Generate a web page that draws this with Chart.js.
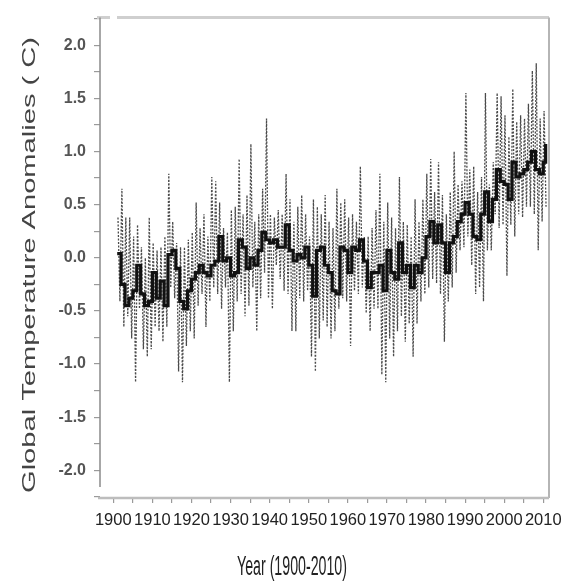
<!DOCTYPE html>
<html>
<head>
<meta charset="utf-8">
<script src="https://cdn.jsdelivr.net/npm/chart.js@4"></script>
<style>
    html, body { margin: 0; padding: 0; background: #fff; }
    #wrap { width: 576px; height: 584px; position: relative; }
</style>
</head>
<body>
<div id="wrap"><canvas id="tempChart" width="576" height="584"></canvas></div>
<script>
// Years 1901-2010
const years = [];
for (let y = 1901; y <= 2010; y++) years.push(y);

// Annual mean anomaly (thick step line)
const annual = [
    0.04, -0.25, -0.45, -0.38, -0.31, -0.07, -0.34, -0.45, -0.41, -0.14,
    -0.38, -0.22, -0.45, 0.03, 0.07, -0.10, -0.41, -0.48, -0.31, -0.20,
    -0.14, -0.07, -0.14, -0.17, -0.07, -0.03, 0.20, -0.03, 0.00, -0.17,
    -0.14, 0.17, 0.10, -0.10, 0.00, -0.07, 0.07, 0.24, 0.17, 0.14,
    0.17, 0.10, 0.10, 0.31, 0.07, -0.03, 0.03, 0.00, 0.10, -0.07,
    -0.36, 0.07, 0.10, -0.07, -0.14, -0.31, -0.34, 0.10, 0.07, -0.14,
    0.10, 0.07, 0.17, -0.03, -0.28, -0.14, -0.14, -0.07, -0.31, 0.07,
    -0.14, -0.20, 0.14, -0.14, -0.07, -0.28, -0.07, -0.14, 0.00, 0.20,
    0.34, 0.14, 0.31, 0.14, -0.14, 0.14, 0.20, 0.34, 0.41, 0.52,
    0.41, 0.20, 0.17, 0.41, 0.62, 0.34, 0.55, 0.83, 0.72, 0.69,
    0.55, 0.90, 0.76, 0.79, 0.83, 0.90, 1.00, 0.83, 0.79, 0.90
];
const stepEnd = { x: 2010.6, y: 1.07 };

// Monthly spread: highest and lowest reading of each year (dotted line)
const highs = [
    0.38, 0.65, 0.38, 0.38, 0.20, 0.31, 0.10, 0.00, 0.38, 0.14,
    0.07, 0.10, 0.20, 0.79, 0.34, 0.14, 0.10, 0.10, 0.17, 0.24,
    0.52, 0.28, 0.41, 0.20, 0.76, 0.72, 0.52, 0.28, 0.24, 0.45,
    0.48, 0.93, 0.41, 0.59, 1.07, 0.34, 0.41, 0.65, 1.31, 0.41,
    0.38, 0.45, 0.41, 0.79, 0.55, 0.34, 0.48, 0.59, 0.41, 0.20,
    0.55, 0.48, 0.41, 0.59, 0.34, 0.28, 0.65, 0.52, 0.55, 0.38,
    0.41, 0.34, 0.86, 0.20, 0.20, 0.28, 0.45, 0.79, 0.34, 0.52,
    0.38, 0.28, 0.76, 0.34, 0.31, 0.20, 0.55, 0.34, 0.55, 0.79,
    0.93, 0.62, 0.90, 0.59, 0.41, 0.62, 1.00, 0.69, 0.72, 1.55,
    0.83, 0.86, 0.62, 0.76, 1.55, 0.69, 0.90, 1.55, 1.52, 1.34,
    1.14, 1.59, 1.28, 1.34, 1.31, 1.45, 1.76, 1.83, 1.31, 1.38
];
const lows = [
    -0.41, -0.65, -0.55, -0.76, -1.17, -0.48, -0.86, -0.93, -0.86, -0.65,
    -0.69, -0.79, -0.65, -0.28, -0.38, -1.07, -1.17, -0.83, -0.69, -0.76,
    -0.45, -0.34, -0.65, -0.41, -0.28, -0.34, -0.48, -0.28, -1.17, -0.69,
    -0.41, -0.34, -0.55, -0.45, -0.28, -0.69, -0.38, -0.14, -0.38, -0.48,
    -0.07, -0.20, -0.31, -0.34, -0.69, -0.69, -0.38, -0.41, -0.31, -0.93,
    -1.07, -0.76, -0.59, -0.65, -0.76, -0.69, -0.48, -0.38, -0.41, -0.83,
    -0.31, -0.34, -0.28, -0.52, -0.69, -0.48, -0.48, -1.10, -1.17, -0.76,
    -0.93, -0.69, -0.55, -0.79, -0.62, -0.93, -0.62, -0.41, -0.34, -0.28,
    -0.20, -0.24, -0.34, -0.79, -0.41, -0.28, -0.14, 0.07, 0.10, 0.20,
    -0.07, -0.34, -0.28, -0.41, 0.07, 0.07, 0.41, 0.28, 0.31, -0.17,
    0.31, 0.20, 0.41, 0.38, 0.48, 0.48, 0.41, 0.07, 0.34, 0.48
];

// Axis ticks
const yTicks = [-2.25, -2.0, -1.75, -1.5, -1.25, -1.0, -0.75, -0.5, -0.25, 0, 0.25, 0.5, 0.75, 1.0, 1.25, 1.5, 1.75, 2.0, 2.25];
const yLabels = [-2.0, -1.5, -1.0, -0.5, 0, 0.5, 1.0, 1.5, 2.0];
const xTicks = [];
for (let t = 1900; t <= 2010; t += 5) xTicks.push(t);
const xLabels = [1900, 1910, 1920, 1930, 1940, 1950, 1960, 1970, 1980, 1990, 2000, 2010];

const yTitle = 'Global Temperature Anomalies ( C)';
const xTitle = 'Year (1900-2010)';

// build datasets
const stepData = years.map((yr, i) => ({ x: yr, y: annual[i] }));
stepData.push(stepEnd);

const spikeData = [];
years.forEach((yr, i) => {
    spikeData.push({ x: yr + 0.2, y: highs[i] });
    spikeData.push({ x: yr + 0.7, y: lows[i] });
});

// frame lines and stretched axis titles
const framePlugin = {
    id: 'frame',
    afterDraw(chart) {
        const { ctx, chartArea: a } = chart;
        ctx.save();
        // top border
        ctx.strokeStyle = '#cfcfcf';
        ctx.lineWidth = 3;
        ctx.beginPath();
        ctx.moveTo(97, a.top); ctx.lineTo(110, a.top);
        ctx.moveTo(117, a.top); ctx.lineTo(a.right, a.top);
        ctx.stroke();
        // right border
        ctx.strokeStyle = '#b5b5b5';
        ctx.lineWidth = 2;
        ctx.beginPath();
        ctx.moveTo(a.right, a.top); ctx.lineTo(a.right, a.bottom);
        ctx.stroke();
        // left axis (stops short of x axis)
        ctx.strokeStyle = '#8a8a8a';
        ctx.lineWidth = 1.5;
        ctx.beginPath();
        ctx.moveTo(a.left, a.top); ctx.lineTo(a.left, a.bottom - 11);
        ctx.stroke();
        // bottom axis
        ctx.strokeStyle = '#bdbdbd';
        ctx.lineWidth = 2.5;
        ctx.beginPath();
        ctx.moveTo(a.left - 2, a.bottom); ctx.lineTo(a.right, a.bottom);
        ctx.stroke();

        // y title
        ctx.fillStyle = '#444';
        ctx.font = '19px "Liberation Sans", Arial, sans-serif';
        ctx.textAlign = 'center';
        ctx.textBaseline = 'middle';
        let w = ctx.measureText(yTitle).width;
        ctx.translate(30, 265);
        ctx.rotate(-Math.PI / 2);
        ctx.scale(456 / w, 1);
        ctx.fillText(yTitle, 0, 0);
        ctx.restore();

        // x title
        ctx.save();
        ctx.fillStyle = '#222';
        ctx.font = '27px "Liberation Sans", Arial, sans-serif';
        ctx.textAlign = 'center';
        ctx.textBaseline = 'middle';
        w = ctx.measureText(xTitle).width;
        ctx.translate(292, 568);
        ctx.scale(110 / w, 1);
        ctx.fillText(xTitle, 0, 0);
        ctx.restore();
    }
};

new Chart(document.getElementById('tempChart'), {
    type: 'line',
    data: {
        datasets: [{
            label: 'Annual',
            data: stepData,
            stepped: true,
            borderColor: '#111',
            borderWidth: 3.2,
            pointRadius: 0,
            fill: false
        }, {
            label: 'Monthly',
            data: spikeData,
            borderColor: 'rgba(55, 55, 55, 0.9)',
            borderWidth: 1.3,
            borderDash: [2, 1.5],
            pointRadius: 0,
            tension: 0,
            fill: false
        }]
    },
    plugins: [framePlugin],
    options: {
        responsive: false,
        animation: false,
        events: [],
        layout: { padding: { top: 9, right: 27, left: 0, bottom: 0 } },
        plugins: {
            legend: { display: false },
            tooltip: { enabled: false }
        },
        scales: {
            x: {
                type: 'linear',
                min: 1896.6,
                max: 2011.46,
                afterBuildTicks: s => { s.ticks = xTicks.map(v => ({ value: v })); },
                afterFit: s => { s.height = 86; },
                border: { display: false },
                grid: {
                    drawOnChartArea: false,
                    drawTicks: true,
                    tickLength: 5,
                    color: '#9a9a9a',
                    lineWidth: 1.2
                },
                ticks: {
                    autoSkip: false,
                    maxRotation: 0,
                    padding: 8,
                    color: '#222',
                    font: { family: '"Liberation Sans", Arial, sans-serif', size: 16.5 },
                    callback: v => xLabels.includes(v) ? String(v) : ''
                }
            },
            y: {
                min: -2.26,
                max: 2.26,
                afterBuildTicks: s => { s.ticks = yTicks.map(v => ({ value: v })); },
                afterFit: s => { s.width = 100; },
                border: { display: false },
                grid: {
                    drawOnChartArea: false,
                    drawTicks: true,
                    tickLength: 6,
                    color: '#9a9a9a',
                    lineWidth: 1.2
                },
                ticks: {
                    autoSkip: false,
                    padding: 8,
                    color: '#555',
                    font: { family: '"Liberation Sans", Arial, sans-serif', size: 16, weight: 'bold' },
                    callback: v => yLabels.some(l => Math.abs(l - v) < 1e-6) ? v.toFixed(1) : ''
                }
            }
        }
    }
});
</script>
</body>
</html>
